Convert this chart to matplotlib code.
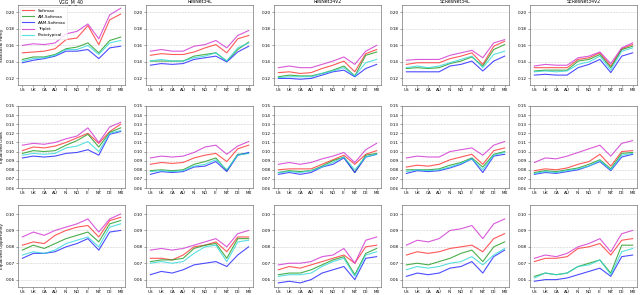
import matplotlib
matplotlib.use("Agg")
import matplotlib.pyplot as plt

countries = ["US", "UK", "CA", "AU", "IN", "NO", "IE", "NZ", "DE", "MX"]
models = ["VGG_M_40", "ResNet34L", "ResNet34V2", "SEResNet34L", "SEResNet34V2"]
metrics = ["Statistical Parity", "Equalized Odds", "Equalized Opportunity"]
losses = ["Softmax", "AM-Softmax", "AAM-Softmax", "Triplet", "Prototypical"]
colors = ["#ff3030", "#1f9a1f", "#2020ff", "#d030d0", "#30d8d8"]

# Statistical Parity, one list per loss, per model
sp = {
    "VGG_M_40": [
        [0.151, 0.152, 0.153, 0.156, 0.167, 0.169, 0.184, 0.161, 0.191, 0.198],
        [0.143, 0.146, 0.146, 0.149, 0.156, 0.158, 0.163, 0.151, 0.166, 0.170],
        [0.139, 0.142, 0.144, 0.147, 0.153, 0.153, 0.155, 0.144, 0.157, 0.159],
        [0.160, 0.162, 0.161, 0.163, 0.174, 0.177, 0.186, 0.168, 0.197, 0.205],
        [0.141, 0.144, 0.145, 0.148, 0.155, 0.155, 0.160, 0.149, 0.163, 0.166],
    ],
    "ResNet34L": [
        [0.148, 0.150, 0.149, 0.149, 0.152, 0.157, 0.161, 0.151, 0.168, 0.172],
        [0.141, 0.141, 0.141, 0.141, 0.147, 0.149, 0.151, 0.141, 0.155, 0.164],
        [0.136, 0.138, 0.137, 0.138, 0.143, 0.145, 0.147, 0.140, 0.152, 0.159],
        [0.153, 0.155, 0.153, 0.153, 0.159, 0.161, 0.166, 0.157, 0.172, 0.178],
        [0.141, 0.143, 0.141, 0.141, 0.145, 0.147, 0.151, 0.141, 0.157, 0.163],
    ],
    "ResNet34V2": [
        [0.127, 0.128, 0.126, 0.127, 0.132, 0.136, 0.141, 0.128, 0.150, 0.155],
        [0.122, 0.124, 0.123, 0.123, 0.126, 0.130, 0.135, 0.123, 0.148, 0.152],
        [0.120, 0.120, 0.119, 0.120, 0.124, 0.128, 0.130, 0.122, 0.132, 0.137],
        [0.133, 0.135, 0.133, 0.133, 0.137, 0.141, 0.146, 0.137, 0.153, 0.160],
        [0.121, 0.122, 0.122, 0.122, 0.126, 0.129, 0.133, 0.123, 0.139, 0.143],
    ],
    "SEResNet34L": [
        [0.137, 0.139, 0.139, 0.139, 0.144, 0.147, 0.151, 0.137, 0.159, 0.165],
        [0.132, 0.133, 0.132, 0.133, 0.138, 0.141, 0.146, 0.135, 0.155, 0.161],
        [0.128, 0.128, 0.128, 0.128, 0.135, 0.137, 0.141, 0.129, 0.141, 0.147],
        [0.142, 0.143, 0.143, 0.143, 0.148, 0.151, 0.154, 0.145, 0.163, 0.167],
        [0.133, 0.135, 0.133, 0.135, 0.139, 0.143, 0.147, 0.133, 0.149, 0.153],
    ],
    "SEResNet34V2": [
        [0.133, 0.133, 0.133, 0.133, 0.143, 0.145, 0.151, 0.135, 0.156, 0.161],
        [0.129, 0.130, 0.130, 0.130, 0.141, 0.143, 0.149, 0.133, 0.155, 0.159],
        [0.124, 0.125, 0.124, 0.124, 0.133, 0.137, 0.143, 0.127, 0.147, 0.151],
        [0.135, 0.137, 0.136, 0.136, 0.145, 0.147, 0.152, 0.138, 0.157, 0.163],
        [0.128, 0.129, 0.128, 0.129, 0.137, 0.140, 0.147, 0.130, 0.153, 0.157],
    ],
}

# Equalized Odds
eodds = {
    "VGG_M_40": [
        [0.101, 0.105, 0.104, 0.106, 0.110, 0.115, 0.120, 0.109, 0.122, 0.130],
        [0.098, 0.101, 0.100, 0.101, 0.107, 0.112, 0.119, 0.105, 0.121, 0.126],
        [0.093, 0.095, 0.094, 0.095, 0.098, 0.099, 0.102, 0.096, 0.119, 0.122],
        [0.107, 0.109, 0.108, 0.110, 0.114, 0.117, 0.126, 0.110, 0.127, 0.132],
        [0.096, 0.098, 0.097, 0.098, 0.104, 0.106, 0.111, 0.100, 0.120, 0.123],
    ],
    "ResNet34L": [
        [0.086, 0.088, 0.087, 0.088, 0.093, 0.096, 0.098, 0.089, 0.103, 0.107],
        [0.079, 0.080, 0.079, 0.080, 0.086, 0.089, 0.093, 0.079, 0.097, 0.098],
        [0.075, 0.078, 0.077, 0.078, 0.083, 0.084, 0.089, 0.078, 0.096, 0.099],
        [0.093, 0.095, 0.094, 0.095, 0.099, 0.105, 0.107, 0.097, 0.106, 0.111],
        [0.078, 0.079, 0.078, 0.079, 0.084, 0.086, 0.091, 0.080, 0.096, 0.098],
    ],
    "ResNet34V2": [
        [0.080, 0.081, 0.081, 0.081, 0.086, 0.091, 0.096, 0.086, 0.097, 0.101],
        [0.077, 0.079, 0.078, 0.079, 0.084, 0.090, 0.094, 0.077, 0.096, 0.098],
        [0.075, 0.077, 0.075, 0.077, 0.083, 0.086, 0.093, 0.077, 0.094, 0.097],
        [0.086, 0.088, 0.086, 0.088, 0.092, 0.095, 0.099, 0.088, 0.102, 0.109],
        [0.077, 0.078, 0.077, 0.079, 0.083, 0.088, 0.094, 0.080, 0.094, 0.097],
    ],
    "SEResNet34L": [
        [0.083, 0.085, 0.084, 0.086, 0.091, 0.094, 0.097, 0.086, 0.101, 0.104],
        [0.080, 0.080, 0.080, 0.081, 0.085, 0.088, 0.093, 0.083, 0.097, 0.100],
        [0.076, 0.079, 0.078, 0.079, 0.082, 0.086, 0.092, 0.077, 0.095, 0.097],
        [0.093, 0.095, 0.094, 0.094, 0.100, 0.102, 0.104, 0.096, 0.107, 0.111],
        [0.078, 0.080, 0.079, 0.080, 0.083, 0.087, 0.092, 0.080, 0.096, 0.099],
    ],
    "SEResNet34V2": [
        [0.079, 0.081, 0.080, 0.082, 0.086, 0.089, 0.097, 0.084, 0.100, 0.101],
        [0.077, 0.079, 0.078, 0.080, 0.082, 0.086, 0.091, 0.081, 0.098, 0.099],
        [0.075, 0.077, 0.076, 0.078, 0.080, 0.084, 0.089, 0.079, 0.094, 0.097],
        [0.088, 0.093, 0.092, 0.095, 0.099, 0.103, 0.107, 0.095, 0.109, 0.112],
        [0.076, 0.078, 0.077, 0.079, 0.081, 0.084, 0.090, 0.080, 0.096, 0.098],
    ],
}

# Equalized Opportunity
eopp = {
    "VGG_M_40": [
        [0.081, 0.083, 0.082, 0.087, 0.090, 0.092, 0.093, 0.086, 0.096, 0.098],
        [0.078, 0.081, 0.079, 0.082, 0.085, 0.087, 0.089, 0.083, 0.094, 0.096],
        [0.073, 0.076, 0.076, 0.077, 0.080, 0.082, 0.085, 0.078, 0.089, 0.090],
        [0.086, 0.089, 0.087, 0.090, 0.092, 0.094, 0.097, 0.089, 0.097, 0.100],
        [0.075, 0.077, 0.076, 0.078, 0.082, 0.084, 0.086, 0.080, 0.092, 0.094],
    ],
    "ResNet34L": [
        [0.073, 0.073, 0.072, 0.075, 0.080, 0.081, 0.083, 0.077, 0.086, 0.086],
        [0.071, 0.072, 0.072, 0.073, 0.079, 0.081, 0.082, 0.073, 0.085, 0.085],
        [0.063, 0.065, 0.064, 0.066, 0.069, 0.070, 0.071, 0.068, 0.075, 0.080],
        [0.078, 0.079, 0.078, 0.079, 0.081, 0.083, 0.085, 0.080, 0.088, 0.090],
        [0.070, 0.071, 0.070, 0.071, 0.076, 0.080, 0.081, 0.071, 0.083, 0.084],
    ],
    "ResNet34V2": [
        [0.066, 0.068, 0.067, 0.069, 0.071, 0.073, 0.075, 0.070, 0.080, 0.081],
        [0.063, 0.064, 0.064, 0.066, 0.069, 0.072, 0.074, 0.063, 0.076, 0.079],
        [0.058, 0.059, 0.058, 0.060, 0.064, 0.066, 0.068, 0.060, 0.073, 0.074],
        [0.069, 0.070, 0.070, 0.071, 0.074, 0.075, 0.079, 0.070, 0.084, 0.086],
        [0.062, 0.063, 0.063, 0.064, 0.068, 0.071, 0.073, 0.062, 0.075, 0.077],
    ],
    "SEResNet34L": [
        [0.075, 0.077, 0.076, 0.077, 0.079, 0.080, 0.081, 0.077, 0.085, 0.088],
        [0.069, 0.070, 0.069, 0.071, 0.073, 0.076, 0.078, 0.071, 0.080, 0.083],
        [0.062, 0.064, 0.063, 0.064, 0.067, 0.068, 0.071, 0.064, 0.074, 0.078],
        [0.081, 0.084, 0.083, 0.085, 0.090, 0.091, 0.093, 0.085, 0.094, 0.097],
        [0.066, 0.068, 0.067, 0.068, 0.070, 0.071, 0.074, 0.069, 0.075, 0.079],
    ],
    "SEResNet34V2": [
        [0.071, 0.073, 0.073, 0.074, 0.079, 0.080, 0.082, 0.075, 0.084, 0.085],
        [0.062, 0.064, 0.063, 0.064, 0.068, 0.070, 0.072, 0.064, 0.081, 0.081],
        [0.059, 0.060, 0.060, 0.061, 0.063, 0.065, 0.067, 0.062, 0.074, 0.075],
        [0.073, 0.075, 0.074, 0.076, 0.080, 0.082, 0.085, 0.077, 0.088, 0.090],
        [0.061, 0.064, 0.063, 0.064, 0.068, 0.069, 0.072, 0.063, 0.077, 0.079],
    ],
}

row_data = [sp, eodds, eopp]
row_ylims = [(0.112, 0.209), (0.06, 0.15), (0.0555, 0.1055)]
row_yticks = [
    [0.12, 0.14, 0.16, 0.18, 0.20],
    [0.06, 0.07, 0.08, 0.09, 0.10, 0.11, 0.12, 0.13, 0.14, 0.15],
    [0.06, 0.07, 0.08, 0.09, 0.10],
]
# vertical dashed grid positions differ between columns
col_vgrid = [[3, 6], [1, 4, 7], [2, 5, 8], [1, 3, 6], [1, 4, 7]]

# axes boxes in pixels (top, bottom) for 640x295 canvas
row_px = [(5, 85), (106, 188), (205, 287)]
W, H = 640, 295
fs = 3.0

fig = plt.figure(figsize=(6.4, 2.95), dpi=100)

for r in range(3):
    top, bot = row_px[r]
    for c, model in enumerate(models):
        left = 18 + 128 * c
        ax = fig.add_axes([left / W, 1 - bot / H, 107 / W, (bot - top) / H])
        x = list(range(len(countries)))
        for k, loss in enumerate(losses):
            ax.plot(x, row_data[r][model][k], color=colors[k], lw=0.8,
                    alpha=0.8, label=loss)
        ax.set_xlim(-0.4, 9.4)
        ax.set_ylim(*row_ylims[r])
        ax.set_yticks(row_yticks[r])
        ax.set_yticklabels([f"{v:.2f}" for v in row_yticks[r]])
        ax.set_xticks(x)
        ax.set_xticklabels(countries)
        ax.set_xticks(col_vgrid[c], minor=True)
        ax.tick_params(axis="both", which="major", labelsize=fs, length=1.5,
                       width=0.4, pad=1, color="#555555")
        ax.tick_params(axis="x", which="minor", length=0)
        ax.grid(axis="y", which="major", ls="--", lw=0.4, color="#cccccc")
        ax.grid(axis="x", which="minor", ls="--", lw=0.4, color="#cccccc")
        for s in ax.spines.values():
            s.set_linewidth(0.5)
            s.set_color("#777777")
        if r == 0:
            ax.set_title(model, fontsize=3.3, pad=1.5)
        if c == 0:
            ax.set_ylabel(metrics[r], fontsize=fs, labelpad=1)
        if r == 0 and c == 0:
            ax.legend(loc="upper left", fontsize=fs, handlelength=3,
                      borderpad=0.4, labelspacing=0.5, framealpha=0.8,
                      edgecolor="#dddddd").get_frame().set_linewidth(0.4)

fig.savefig("out.png", dpi=100)
